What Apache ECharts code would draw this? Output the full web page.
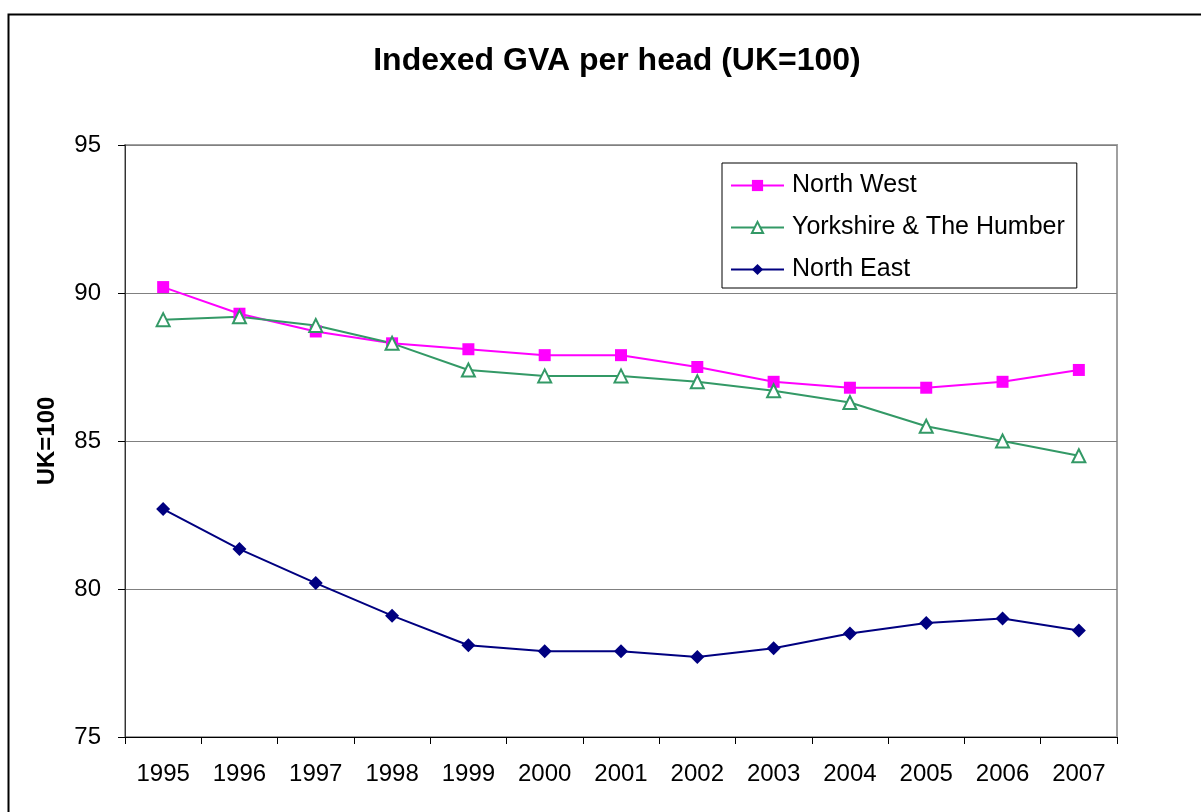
<!DOCTYPE html>
<html>
<head>
<meta charset="utf-8">
<script src="https://cdn.jsdelivr.net/npm/echarts@6/dist/echarts.min.js"></script>
<style>
  html, body { margin: 0; padding: 0; background: #fff; }
  #chart { width: 1201px; height: 812px; }
</style>
</head>
<body>
<div id="chart"></div>
<script>
// data
const years = ['1995', '1996', '1997', '1998', '1999', '2000', '2001', '2002', '2003', '2004', '2005', '2006', '2007']
const northWest = [90.2, 89.3, 88.7, 88.3, 88.1, 87.9, 87.9, 87.5, 87.0, 86.8, 86.8, 87.0, 87.4]
const yorkshire = [89.1, 89.2, 88.9, 88.3, 87.4, 87.2, 87.2, 87.0, 86.7, 86.3, 85.5, 85.0, 84.5]
const northEast = [82.7, 81.35, 80.2, 79.1, 78.1, 77.9, 77.9, 77.7, 78.0, 78.5, 78.85, 79.0, 78.6]

const font = 'Liberation Sans, Arial, sans-serif'
const chart = echarts.init(document.getElementById('chart'))

const option = {
  backgroundColor: '#fff',
  animation: false,
  textStyle: { fontFamily: font },
  title: {
    text: 'Indexed GVA per head (UK=100)',
    left: 612,
    textAlign: 'center',
    top: 40,
    textStyle: { fontSize: 32, fontWeight: 'bold', color: '#000', fontFamily: font }
  },
  // outer chart frame (right/bottom edges run off the picture)
  graphic: [{
    type: 'rect',
    shape: { x: 8.5, y: 14.5, width: 1210, height: 820 },
    style: { fill: 'none', stroke: '#000', lineWidth: 2 },
    silent: true
  }],
  legend: {
    left: 722,
    top: 163,
    orient: 'vertical',
    itemWidth: 53,
    itemHeight: 14,
    itemGap: 17,
    padding: [10, 12, 6, 8],
    borderColor: '#000',
    borderWidth: 1,
    backgroundColor: '#fff',
    textStyle: { fontSize: 25, color: '#000', fontFamily: font, padding: [0, 0, 0, 3] },
    data: ['North West', 'Yorkshire & The Humber', 'North East']
  },
  grid: {
    left: 125,
    right: 84,
    top: 145,
    bottom: 75,
    show: true,
    borderColor: '#a0a0a0',
    borderWidth: 2
  },
  xAxis: {
    type: 'category',
    data: years,
    boundaryGap: true,
    axisLine: { lineStyle: { color: '#000', width: 1 } },
    axisTick: { show: true, length: 7, interval: 0, lineStyle: { color: '#000' } },
    axisLabel: { fontSize: 24, color: '#000', margin: 25, interval: 0, fontFamily: font },
    splitLine: { show: false }
  },
  yAxis: {
    type: 'value',
    min: 75,
    max: 95,
    interval: 5,
    name: 'UK=100',
    nameLocation: 'middle',
    nameGap: 66,
    nameRotate: 90,
    nameTextStyle: { fontSize: 24, fontWeight: 'bold', color: '#000', fontFamily: font },
    axisLine: { show: true, lineStyle: { color: '#333', width: 1 } },
    axisTick: { show: true, length: 7, inside: false, lineStyle: { color: '#000' } },
    axisLabel: { fontSize: 24, color: '#000', margin: 24, fontFamily: font },
    splitLine: { show: true, lineStyle: { color: '#808080', width: 1 } }
  },
  series: [
    {
      name: 'North West',
      type: 'line',
      data: northWest,
      symbol: 'rect',
      symbolSize: 12,
      color: '#ff00ff',
      lineStyle: { width: 2, color: '#ff00ff' },
      itemStyle: { color: '#ff00ff' }
    },
    {
      name: 'Yorkshire & The Humber',
      type: 'line',
      data: yorkshire,
      symbol: 'triangle',
      symbolSize: 13,
      color: '#339966',
      lineStyle: { width: 2, color: '#339966' },
      itemStyle: { color: '#fff', borderColor: '#339966', borderWidth: 2 }
    },
    {
      name: 'North East',
      type: 'line',
      data: northEast,
      symbol: 'diamond',
      symbolSize: 14,
      color: '#000080',
      lineStyle: { width: 2, color: '#000080' },
      itemStyle: { color: '#000080' }
    }
  ]
}

chart.setOption(option)
window.addEventListener('resize', () => chart.resize())
</script>
</body>
</html>
